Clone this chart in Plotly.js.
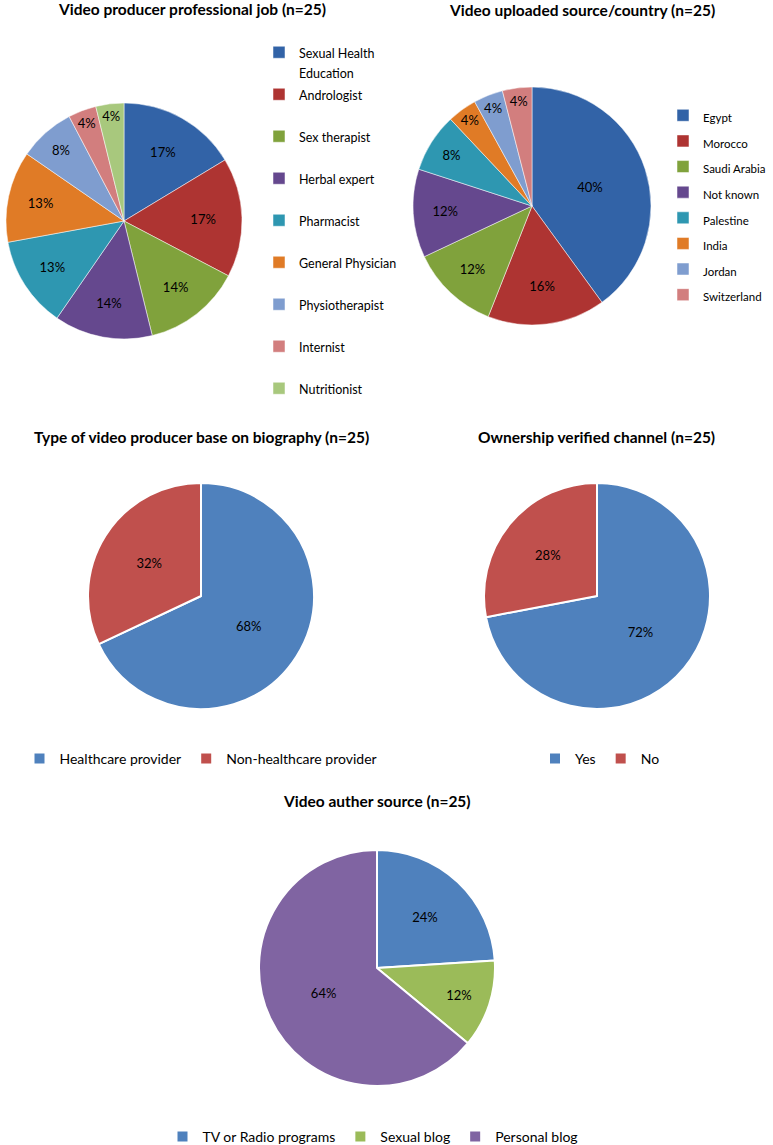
<!DOCTYPE html>
<html>
<head>
<meta charset="utf-8">
<script src="https://cdn.plot.ly/plotly-3.0.1.min.js"></script>
<style>html,body{margin:0;padding:0;background:#fff;}#chart{width:773px;height:1145px;}</style>
</head>
<body>
<div id="chart"></div>
<script>
// ---- data ----
const jobLabels = ["Sexual Health<br>Education", "Andrologist", "Sex therapist", "Herbal expert", "Pharmacist", "General Physician", "Physiotherapist", "Internist", "Nutritionist"];
const jobValues = [17, 17, 14, 14, 13, 13, 8, 4, 4];

const countryLabels = ["Egypt", "Morocco", "Saudi Arabia", "Not known", "Palestine", "India", "Jordan", "Switzerland"];
const countryValues = [40, 16, 12, 12, 8, 4, 4, 4];

const typeLabels = ["Healthcare provider", "Non-healthcare provider"];
const typeValues = [68, 32];

const ownLabels = ["Yes", "No"];
const ownValues = [72, 28];

const authorLabels = ["TV or Radio programs", "Sexual blog", "Personal blog"];
const authorValues = [24, 12, 64];

const titles = [
  "Video producer professional job (n=25)",
  "Video uploaded source/country (n=25)",
  "Type of video producer base on biography (n=25)",
  "Ownership verified channel (n=25)",
  "Video auther source (n=25)"
];

// ---- styling ----
const W = 773, H = 1145;
const darkPal = ["#3263a7", "#ae3432", "#80a23c", "#65488e", "#2e97b1", "#e07b26", "#7f9dcf", "#d27e7e", "#a8c87d"];
const lightPal = ["#4f81bd", "#c0504d", "#9bbb59", "#8064a2"];
const FONT = "Lato, 'Liberation Sans', sans-serif";

function dom(cx, cy, r) {
  return {x: [(cx - r) / W, (cx + r) / W], y: [1 - (cy + r) / H, 1 - (cy - r) / H]};
}
function pct(vals) { return vals.map(v => v + "%"); }
function legendText(labels, size, pad) {
  return labels.map(l => {
    const lines = l.split("<br>").map(s => `<span style="font-size:${size}px">${s}</span>`);
    while (lines.length < pad) lines.push("\u00a0");
    return lines.join("<br>");
  });
}

const LBL = {family: FONT, size: 13, color: "#000"};

const traces = [
  {
    type: "pie", labels: legendText(jobLabels, 12.5, 2), values: jobValues, text: pct(jobValues),
    textinfo: "text", textposition: "inside", insidetextorientation: "horizontal",
    sort: false, direction: "clockwise", rotation: 0,
    marker: {colors: darkPal, line: {color: "#ffffff", width: 0.5}},
    textfont: LBL, domain: dom(124, 221, 118), legend: "legend", hoverinfo: "skip"
  },
  {
    type: "pie", labels: legendText(countryLabels, 11.5, 1), values: countryValues, text: pct(countryValues),
    textinfo: "text", textposition: "inside", insidetextorientation: "horizontal",
    sort: false, direction: "clockwise", rotation: 0,
    marker: {colors: darkPal.slice(0, 8), line: {color: "#ffffff", width: 0.5}},
    textfont: LBL, domain: dom(532, 206, 119), legend: "legend2", hoverinfo: "skip"
  },
  {
    type: "pie", labels: typeLabels, values: typeValues, text: pct(typeValues),
    textinfo: "text", textposition: "inside", insidetextorientation: "horizontal",
    sort: false, direction: "clockwise", rotation: 0,
    marker: {colors: lightPal.slice(0, 2), line: {color: "#ffffff", width: 2}},
    textfont: LBL, domain: dom(201, 596, 113), legend: "legend3", hoverinfo: "skip"
  },
  {
    type: "pie", labels: ownLabels, values: ownValues, text: pct(ownValues),
    textinfo: "text", textposition: "inside", insidetextorientation: "horizontal",
    sort: false, direction: "clockwise", rotation: 0,
    marker: {colors: lightPal.slice(0, 2), line: {color: "#ffffff", width: 2}},
    textfont: LBL, domain: dom(597, 596, 113), legend: "legend4", hoverinfo: "skip"
  },
  {
    type: "pie", labels: authorLabels, values: authorValues, text: pct(authorValues),
    textinfo: "text", textposition: "inside", insidetextorientation: "horizontal",
    sort: false, direction: "clockwise", rotation: 0,
    marker: {colors: [lightPal[0], lightPal[2], lightPal[3]], line: {color: "#ffffff", width: 2}},
    textfont: LBL, domain: dom(377, 968, 118), legend: "legend5", hoverinfo: "skip"
  }
];

const titlePos = [[192, 9], [582, 10], [201, 437], [596, 437], [377, 801]];
const annotations = titles.map((t, i) => ({
  text: "<b>" + t + "</b>", x: titlePos[i][0] / W, y: 1 - titlePos[i][1] / H,
  xref: "paper", yref: "paper", xanchor: "center", yanchor: "middle", showarrow: false,
  font: {family: FONT, size: 15.5, color: "#000"}
}));

const hLegend = (cx, cy) => ({
  orientation: "h", x: cx / W, y: 1 - cy / H, xanchor: "center", yanchor: "middle",
  font: {family: FONT, size: 14, color: "#000"}, bgcolor: "rgba(0,0,0,0)", traceorder: "normal"
});

const layout = {
  width: W, height: H, margin: {l: 0, r: 0, t: 0, b: 0, autoexpand: false},
  paper_bgcolor: "#fff", plot_bgcolor: "#fff", showlegend: true,
  font: {family: FONT, color: "#000"},
  annotations: annotations,
  legend: {x: 259 / W, y: 1 - 36 / H, xanchor: "left", yanchor: "top", valign: "top",
           font: {family: FONT, size: 15, color: "#000"}, bgcolor: "rgba(0,0,0,0)", traceorder: "normal"},
  legend2: {x: 663 / W, y: 1 - 205 / H, xanchor: "left", yanchor: "middle",
            font: {family: FONT, size: 17.4, color: "#000"}, bgcolor: "rgba(0,0,0,0)", traceorder: "normal"},
  legend3: hLegend(201, 759),
  legend4: hLegend(600, 759),
  legend5: hLegend(373, 1137)
};

Plotly.newPlot("chart", traces, layout, {displayModeBar: false, staticPlot: true});
</script>
</body>
</html>
